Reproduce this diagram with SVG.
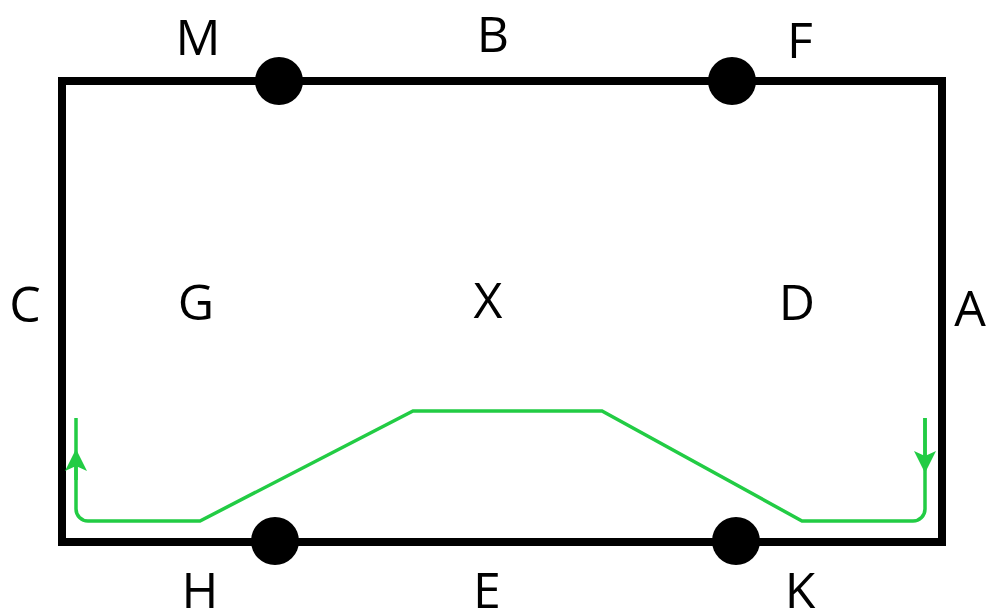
<svg xmlns="http://www.w3.org/2000/svg" width="990" height="614" viewBox="0 0 990 614">
<style>
.lbl{font-family:"Open Sans","Liberation Sans",sans-serif;font-size:50px;fill:#000;text-anchor:middle}
.dot{fill:#000}
</style>
<defs>
<marker id="arr" viewBox="0 0 22 22" refX="11" refY="11" markerWidth="22" markerHeight="22" markerUnits="userSpaceOnUse" orient="auto">
<path d="M0,0 L22,11 L0,22 L5,11 Z" fill="#22cc44"/>
</marker>
</defs>
<rect width="990" height="614" fill="#fff"/>
<g id="frame"><rect x="62" y="81" width="880" height="461" fill="none" stroke="#000" stroke-width="8"/></g>
<g id="connectors">
<path d="M925,418 V509 A12,12 0 0 1 913,521 H802 L602,411 H413 L200,521 H88 A12,12 0 0 1 76,509 V418" fill="none" stroke="#22cc44" stroke-width="3.5"/>
<path d="M925,418 V462" fill="none" stroke="#22cc44" stroke-width="3.5" marker-end="url(#arr)"/>
<path d="M76,480 V460" fill="none" stroke="#22cc44" stroke-width="3.5" marker-end="url(#arr)"/>
</g>
<g id="nM"><circle class="dot" cx="279" cy="81" r="24"/></g>
<g id="nF"><circle class="dot" cx="732" cy="81" r="24"/></g>
<g id="nH"><circle class="dot" cx="275" cy="541" r="24"/></g>
<g id="nK"><circle class="dot" cx="736" cy="541" r="24"/></g>
<g id="labels">
<text class="lbl" x="198" y="55">M</text>
<text class="lbl" x="493" y="52">B</text>
<text class="lbl" x="800" y="58">F</text>
<text class="lbl" x="25" y="322">C</text>
<text class="lbl" x="196" y="320">G</text>
<text class="lbl" x="488" y="318">X</text>
<text class="lbl" x="797" y="320">D</text>
<text class="lbl" x="970" y="326">A</text>
<text class="lbl" x="200" y="608">H</text>
<text class="lbl" x="487" y="608">E</text>
<text class="lbl" x="800" y="608">K</text>
</g>
</svg>
